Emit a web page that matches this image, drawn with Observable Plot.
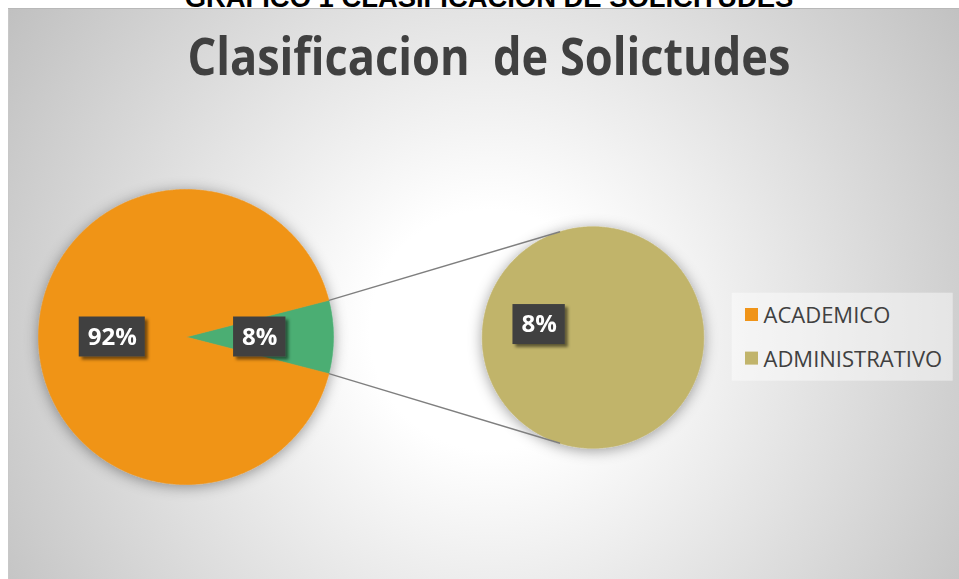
<!DOCTYPE html>
<html><head><meta charset="utf-8">
<script src="https://cdn.jsdelivr.net/npm/d3@7"></script>
<script src="https://cdn.jsdelivr.net/npm/@observablehq/plot@0.6"></script>
<style>
html,body{margin:0;padding:0;background:#fff;}
#wrap{position:relative;width:959px;height:579px;overflow:hidden;background:#fff;}
#cap{position:absolute;left:0;top:-16px;width:978px;text-align:center;font:bold 27.4px "Liberation Sans",Arial,sans-serif;line-height:1;color:#000;white-space:nowrap;}
#chart{position:absolute;left:8px;top:8px;width:951px;height:571px;
  background:radial-gradient(circle 580px at 482px 322px,#ffffff 120px,#c0c0c0 580px);
  box-shadow:inset 0 1px 0 #b8b8b8, inset 1px 0 0 #c8c8c8;}
</style></head><body>
<div id="wrap"><div id="cap">GRAFICO 1 CLASIFICACION DE SOLICITUDES</div><div id="chart"></div></div>
<script>
// ---- data ----
const chartTitle = "Clasificacion  de Solictudes";
const categories = ["ACADEMICO", "ADMINISTRATIVO"];
const percents = [92, 8];
const secondaryCategories = ["ADMINISTRATIVO"]; // split into the second pie

// ---- styles ----
const categoryColors = {ACADEMICO: "#F09418", ADMINISTRATIVO: "#C1B46B"};
const splitColor = "#4BAE73";
const darkGray = "#404040";

// ---- layout ----
const W = 951, H = 571;
const mainPie = {cx: 177.5, cy: 328.5, r: 147.5};
const secondPie = {cx: 584.5, cy: 329, r: 110.8, start: 1.807};
const connectorSpread = 0.3025;

const data = categories.map((c, i) => ({category: c, value: percents[i]}));
const total = d3.sum(data, d => d.value);
const splitValue = d3.sum(data.filter(d => secondaryCategories.includes(d.category)), d => d.value);

const mainItems = [
  {id: "split", value: splitValue, color: splitColor},
  ...data.filter(d => !secondaryCategories.includes(d.category)).map(d => ({id: d.category, value: d.value, color: categoryColors[d.category]}))
];
const mainStart = Math.PI / 2 - (splitValue / total) * Math.PI;
const mainArcs = d3.pie().sort(null).value(d => d.value).startAngle(mainStart).endAngle(mainStart + 2 * Math.PI)(mainItems);

const secondItems = data.filter(d => secondaryCategories.includes(d.category)).map(d => ({id: "s-" + d.category, value: d.value, color: categoryColors[d.category]}));
const secondArcs = d3.pie().sort(null).value(d => d.value).startAngle(secondPie.start).endAngle(secondPie.start + 2 * Math.PI)(secondItems);

const pt = (p, a, k = 1) => ({x: p.cx + k * p.r * Math.sin(a), y: p.cy - k * p.r * Math.cos(a)});

function polygon(arc, p) {
  const rows = [];
  const full = arc.endAngle - arc.startAngle >= 2 * Math.PI - 1e-6;
  if (!full) rows.push({x: p.cx, y: p.cy});
  const n = Math.ceil((arc.endAngle - arc.startAngle) / (Math.PI / 360));
  for (let i = 0; i <= n; i++) {
    const a = arc.startAngle + (arc.endAngle - arc.startAngle) * i / n;
    rows.push(pt(p, a));
  }
  if (!full) rows.push({x: p.cx, y: p.cy});
  return rows;
}
const slices = [
  ...mainArcs.map(a => ({color: a.data.color, rows: polygon(a, mainPie)})),
  ...secondArcs.map(a => ({color: a.data.color, rows: polygon(a, secondPie)}))
];

const splitArc = mainArcs[0];
const connectors = [
  {a: pt(mainPie, splitArc.startAngle), b: pt(secondPie, -connectorSpread)},
  {a: pt(mainPie, splitArc.endAngle), b: pt(secondPie, Math.PI + connectorSpread)}
];

const fmt = v => Math.round(v / total * 100) + "%";
const ctx = document.createElement("canvas").getContext("2d");
ctx.font = "bold 24px 'Open Sans'";
const labels = [
  ...mainArcs.map(a => ({...pt(mainPie, (a.startAngle + a.endAngle) / 2, 0.5), text: fmt(a.data.value)})),
  ...secondArcs.map(a => ({...pt(secondPie, (a.startAngle + a.endAngle) / 2, 0.5), text: fmt(a.data.value)}))
].map(d => ({...d, w: ctx.measureText(d.text).width + 17}));

const legendBox = {x1: 723.7, x2: 944.7, y1: 284.7, y2: 372.7};
const legendRows = categories.map((c, i) => ({category: c, i, color: categoryColors[c]}));
const legX = 737, legY0 = 306.5, legStep = 43.6, sw = 13;

const plot = Plot.plot({
  width: W, height: H, margin: 0,
  x: {domain: [0, W], range: [0, W], axis: null},
  y: {domain: [0, H], range: [0, H], axis: null},
  style: {background: "transparent", overflow: "visible"},
  marks: [
    Plot.text([chartTitle], {x: 488.4 - 8, y: 66.7, text: d => d, lineAnchor: "bottom", fontSize: 52, fontWeight: "bold", fontFamily: "'Open Sans'", fill: darkGray}),
    ...slices.map(s => Plot.line(s.rows, {x: "x", y: "y", fill: s.color, stroke: s.color, strokeWidth: 0.6, curve: "linear"})),
    Plot.link(connectors, {x1: d => d.a.x, y1: d => d.a.y, x2: d => d.b.x, y2: d => d.b.y, stroke: "#7f7f7f", strokeWidth: 1.4}),
    Plot.rect(labels, {x1: d => d.x - d.w / 2, x2: d => d.x + d.w / 2, y1: d => d.y - 20, y2: d => d.y + 20, fill: darkGray}),
    Plot.text(labels, {x: "x", y: "y", text: "text", fill: "white", fontSize: 24, fontWeight: "bold", fontFamily: "'Open Sans'", lineAnchor: "middle"}),
    Plot.rect([legendBox], {x1: "x1", x2: "x2", y1: "y1", y2: "y2", fill: "white", fillOpacity: 0.45}),
    Plot.rect(legendRows, {x1: legX, x2: legX + sw, y1: d => legY0 + d.i * legStep - sw / 2, y2: d => legY0 + d.i * legStep + sw / 2, fill: "color"}),
    Plot.text(legendRows, {x: legX + 18, y: d => legY0 + d.i * legStep + 8.2, text: "category", textAnchor: "start", lineAnchor: "bottom", fontSize: 22, fontFamily: "'Open Sans'", fill: darkGray})
  ]
});
document.getElementById("chart").appendChild(plot);

// shadows via SVG filters
const svg = d3.select(plot);
const defs = svg.insert("defs", ":first-child");
defs.append("filter").attr("id", "pieShadow").attr("x", "-25%").attr("y", "-25%").attr("width", "150%").attr("height", "150%")
  .append("feDropShadow").attr("dx", 0).attr("dy", 2).attr("stdDeviation", 7).attr("flood-color", "#000").attr("flood-opacity", 0.38);
defs.append("filter").attr("id", "boxShadow").attr("x", "-30%").attr("y", "-30%").attr("width", "160%").attr("height", "160%")
  .append("feDropShadow").attr("dx", 3).attr("dy", 3).attr("stdDeviation", 1.5).attr("flood-color", "#000").attr("flood-opacity", 0.5);

svg.selectAll("text").filter(function() { return this.textContent === chartTitle; })
  .attr("textLength", 603).attr("lengthAdjust", "spacingAndGlyphs").style("white-space", "pre");

const pieGroups = svg.selectAll('g[aria-label="line"]').nodes();
if (pieGroups.length) {
  const wrapper = document.createElementNS("http://www.w3.org/2000/svg", "g");
  wrapper.setAttribute("filter", "url(#pieShadow)");
  pieGroups[0].parentNode.insertBefore(wrapper, pieGroups[0]);
  pieGroups.forEach(g => wrapper.appendChild(g));
}
const rectGroups = svg.selectAll('g[aria-label="rect"]').nodes();
if (rectGroups.length) rectGroups[0].setAttribute("filter", "url(#boxShadow)");
</script>
</body></html>
